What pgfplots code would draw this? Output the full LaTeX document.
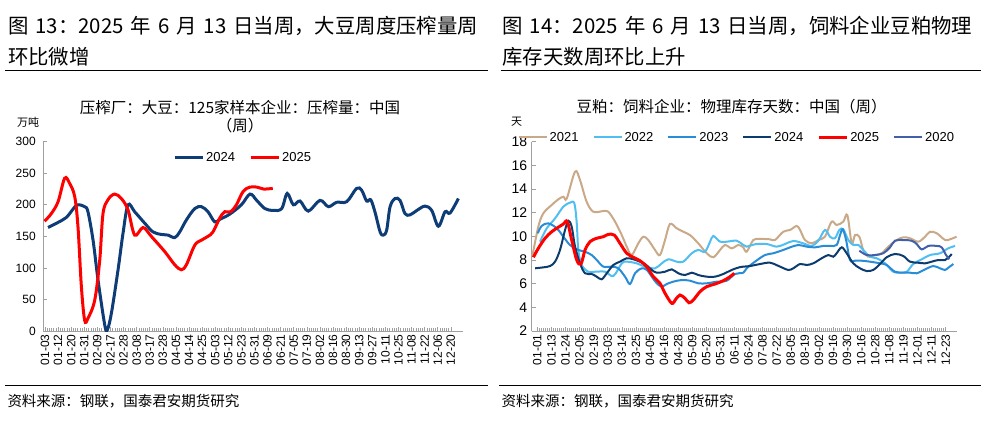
\documentclass[border=0pt]{standalone}
\usepackage{fontspec}
\setmainfont{Liberation Sans}
\newfontfamily\cjk{Noto Sans CJK SC}
\usepackage{pgfplots}
\pgfplotsset{compat=1.18}
\definecolor{navyL}{RGB}{14,60,118}
\definecolor{redL}{RGB}{255,0,0}
\definecolor{c21}{RGB}{201,169,135}
\definecolor{c22}{RGB}{80,190,240}
\definecolor{c23}{RGB}{40,140,215}
\definecolor{c24}{RGB}{12,60,110}
\definecolor{c20}{RGB}{65,95,170}
\definecolor{axgray}{RGB}{160,160,160}
\newcommand{\tsp}{\hspace{0.34em}}
\pgfplotsset{
  common/.style={
    scale only axis, height=189.3pt,
    axis x line*=bottom, axis y line*=left,
    axis line style={axgray, line width=0.8pt},
    tick align=inside,
    major tick length=4pt, minor tick length=3pt,
    tick style={axgray, line width=0.6pt},
    /pgf/number format/assume math mode=true,
    xticklabel style={rotate=90, anchor=east, font=\fontsize{12}{12}\selectfont},
    legend style={draw=none, fill=none, legend columns=-1,
      /tikz/every even column/.append style={column sep=12pt},
      nodes={inner sep=2pt}},
    legend image code/.code={\draw[##1] (0pt,0pt) -- (28pt,0pt);},
  }
}
\begin{document}
\begin{tikzpicture}[x=1pt,y=1pt]
\path[use as bounding box] (0,0) rectangle (988,426);
% ---------- left panel ----------
\node[anchor=west, inner sep=0] at (8,400.3) {\cjk\fontsize{20.4}{24}\selectfont 图\tsp 13：2025\tsp 年\tsp 6\tsp 月\tsp 13\tsp 日当周，大豆周度压榨量周};
\node[anchor=west, inner sep=0] at (8,369.3) {\cjk\fontsize{20.4}{24}\selectfont 环比微增};
\draw[line width=1pt] (5,355) -- (488,355);
\node[inner sep=0] at (240,318.7) {\cjk\fontsize{15.5}{18}\selectfont 压榨厂：大豆：125家样本企业：压榨量：中国};
\node[inner sep=0] at (240,300.3) {\cjk\fontsize{15.5}{18}\selectfont （周）};
\node[inner sep=0] at (28,303.7) {\cjk\fontsize{11}{12}\selectfont 万吨};
\begin{axis}[common, at={(43.3pt,95pt)}, anchor=south west, width=419.7pt,
  xmin=-0.13, xmax=31.93, ymin=0, ymax=300,
  ytick={0,50,...,300},
  yticklabel style={font=\fontsize{12}{12}\selectfont, xshift=-4pt},
  xtick={0,...,31}, minor x tick num=5,
  xticklabels={01-03,01-12,01-20,01-31,02-09,02-17,02-28,03-08,03-17,03-28,04-05,04-14,04-25,05-03,05-12,05-23,05-31,06-09,06-21,07-05,07-19,08-02,08-16,08-30,09-13,09-27,10-11,10-25,11-08,11-22,12-06,12-20},
  legend style={at={(0.476,0.9155)}, anchor=center, font=\fontsize{13}{13}\selectfont},
]
\addplot[navyL, line width=3pt, smooth, tension=0.55] coordinates {
(0.23,164)(0.99,172)(1.63,180)(2.1,192)(2.47,200)(3.03,197)(3.28,189)(3.67,144)(4.05,81)(4.56,10)(4.76,2)(5.07,28)(5.58,97)(5.96,155)(6.34,200)(6.85,189)(7.61,171)(8.25,157)(8.89,153)(9.4,152)(9.91,148)(10.29,157)(10.8,176)(11.44,194)(11.95,197)(12.45,189)(12.96,173)(13.35,177)(14.1,185)(15,200)(15.66,217)(16.17,207)(16.8,194)(17.44,191)(18.08,194)(18.5,218)(18.97,200)(19.48,206)(20.11,190)(21,207)(21.65,197)(22.28,204)(23.05,205)(23.8,226)(24.19,223)(24.57,206)(24.88,208)(25.2,189)(25.6,157)(25.85,152)(26.1,160)(26.36,197)(26.74,210)(27.12,207)(27.5,186)(27.88,184)(28.4,191)(29.03,198)(29.54,191)(30.05,166)(30.56,189)(30.94,187)(31.58,210)
};
\addlegendentry{2024}
\addplot[redL, line width=3pt, smooth, tension=0.55] coordinates {
(-0.03,174)(0.48,186)(1.0,205)(1.5,242)(1.88,234)(2.27,213)(2.52,165)(2.78,70)(3.03,17)(3.28,20)(3.8,49)(4.18,112)(4.43,186)(4.81,208)(5.32,217)(5.83,210)(6.34,192)(6.85,152)(7.49,164)(8.12,150)(9.14,126)(9.91,105)(10.41,97)(10.8,105)(11.44,136)(11.95,144)(12.45,150)(12.83,157)(13.35,179)(13.73,189)(14.18,189)(14.62,200)(15.13,221)(15.64,228)(16.2,228)(16.7,225)(17.4,226)
};
\addlegendentry{2025}
\end{axis}
\draw[line width=1pt] (5,41) -- (488,41);
\node[anchor=west, inner sep=0] at (7.3,25) {\cjk\fontsize{14.5}{16}\selectfont 资料来源：钢联，国泰君安期货研究};
% ---------- right panel ----------
\node[anchor=west, inner sep=0] at (502.3,400.3) {\cjk\fontsize{20.4}{24}\selectfont 图\tsp 14：2025\tsp 年\tsp 6\tsp 月\tsp 13\tsp 日当周，饲料企业豆粕物理};
\node[anchor=west, inner sep=0] at (502.3,369.3) {\cjk\fontsize{20.4}{24}\selectfont 库存天数周环比上升};
\draw[line width=1pt] (500.7,355) -- (981,355);
\node[inner sep=0] at (731.5,319.3) {\cjk\fontsize{15.5}{18}\selectfont 豆粕：饲料企业：物理库存天数：中国（周）};
\node[inner sep=0] at (516.7,304.3) {\cjk\fontsize{11}{12}\selectfont 天};
\begin{axis}[common, at={(531.7pt,95pt)}, anchor=south west, width=425.6pt,
  xmin=-0.4, xmax=29.83, ymin=2, ymax=18,
  ytick={2,4,...,18},
  yticklabel style={font=\fontsize{14}{14}\selectfont, xshift=-1pt},
  xtick={0,...,29}, minor x tick num=6,
  xticklabels={01-01,01-13,01-24,02-05,02-19,03-03,03-14,03-25,04-05,04-16,04-28,05-09,05-20,05-31,06-11,06-24,07-08,07-22,08-05,08-19,09-02,09-16,09-30,10-16,10-28,11-08,11-19,12-01,12-11,12-23},
  legend style={at={(0.482,1.023)}, anchor=center, font=\fontsize{13}{13}\selectfont},
]
\addplot[c21, line width=2pt, smooth, tension=0.55] coordinates {
(-0.36,8.28)(0.07,10.82)(0.43,11.95)(1.02,12.65)(1.49,13.13)(1.85,13.35)(2.09,13.2)(2.68,15.47)(3.03,14.76)(3.5,12.93)(3.98,12.08)(4.69,12.14)(5.04,12.08)(5.52,11.24)(6.0,10.1)(6.35,9.13)(6.7,8.42)(7.17,9.41)(7.53,9.97)(7.88,9.69)(8.36,8.85)(8.71,8.42)(9.07,9.69)(9.42,11.04)(9.9,10.68)(10.37,10.39)(10.85,10.1)(11.43,9.41)(12.03,8.57)(12.5,8.23)(12.98,8.85)(13.33,9.27)(13.81,8.99)(14.28,9.27)(14.63,9.07)(14.87,8.7)(15.34,9.69)(15.82,9.78)(16.53,9.75)(16.88,9.69)(17.47,10.39)(17.95,10.54)(18.42,10.88)(18.66,10.54)(19.01,9.69)(19.49,9.41)(19.96,9.69)(20.43,9.97)(20.9,11.24)(21.26,10.96)(21.73,11.24)(22.02,11.8)(22.33,9.41)(22.56,10.1)(22.87,9.97)(23.15,8.85)(23.51,8.28)(23.98,8.42)(24.46,8.57)(24.93,9.13)(25.53,9.69)(26,9.92)(26.47,9.84)(27.06,9.55)(27.54,9.97)(27.89,10.39)(28.37,10.26)(28.96,9.69)(29.31,9.75)(29.78,9.97)
};
\addlegendentry{2021}
\addplot[c22, line width=2pt, smooth, tension=0.55] coordinates {
(0.19,9.55)(0.67,10.68)(1.26,11.52)(1.85,12.51)(2.32,12.85)(2.63,12.79)(2.8,11.1)(2.91,8.85)(3.15,7.58)(3.62,7.01)(4.1,7.01)(4.81,7.01)(5.4,6.65)(6.0,7.72)(6.35,7.86)(7.06,7.72)(7.65,7.44)(8.36,7.3)(8.84,7.72)(9.3,8.06)(9.9,7.86)(10.37,7.86)(10.97,8.57)(11.43,8.85)(11.91,8.7)(12.27,9.55)(12.5,10.03)(12.98,9.55)(13.45,9.55)(14.16,9.63)(14.63,9.27)(14.87,9.13)(15.46,9.33)(16.29,9.35)(17,9.13)(17.59,9.35)(18.18,9.61)(18.89,9.41)(19.49,9.19)(19.96,9.63)(20.43,10.54)(20.79,9.97)(21.14,9.84)(21.45,10.54)(21.73,10.6)(22.09,9.69)(22.44,9.27)(22.8,9.27)(23.15,8.85)(23.63,8.28)(24.1,8.15)(24.7,7.72)(25.28,7.01)(25.76,6.93)(26.24,7.01)(26.7,7.66)(27.3,8.06)(27.89,8.42)(28.6,8.57)(29.19,8.99)(29.67,9.19)
};
\addlegendentry{2022}
\addplot[c23, line width=2pt, smooth, tension=0.55] coordinates {
(0.03,10.26)(0.31,10.88)(0.78,11.1)(1.38,10.68)(1.85,9.97)(2.32,9.27)(2.91,8.85)(3.39,8.7)(3.86,8.42)(4.22,8.0)(4.69,7.44)(5.28,7.44)(5.75,7.3)(6.23,6.59)(6.58,5.97)(6.94,6.88)(7.41,7.3)(7.77,7.16)(8.13,6.59)(8.48,6.03)(8.84,5.75)(9.19,5.97)(9.66,6.17)(10.26,6.31)(10.85,6.25)(11.43,6.03)(12.03,6.03)(12.74,6.17)(13.45,6.25)(14.04,6.82)(14.63,6.93)(14.87,7.3)(15.46,7.86)(16.17,8.42)(16.76,8.57)(17.47,8.85)(17.95,9.07)(18.54,9.27)(19.13,9.13)(19.72,9.07)(20.31,9.19)(20.79,9.19)(21.26,9.27)(21.5,10.1)(21.69,10.6)(21.93,9.69)(22.21,8.0)(22.56,7.94)(23.04,7.94)(23.63,7.86)(24.34,7.72)(24.81,7.58)(25.4,7.01)(25.99,6.93)(26.47,6.93)(26.95,6.88)(27.54,7.21)(28.13,7.49)(28.6,7.3)(28.96,7.16)(29.19,7.35)(29.55,7.66)
};
\addlegendentry{2023}
\addplot[c24, line width=2pt, smooth, tension=0.55] coordinates {
(-0.16,7.3)(0.43,7.38)(0.9,7.49)(1.26,7.86)(1.61,8.85)(1.97,10.54)(2.2,11.32)(2.44,10.82)(2.68,9.13)(3.03,7.72)(3.39,6.88)(3.86,6.82)(4.22,6.59)(4.57,6.37)(4.93,6.88)(5.4,7.58)(5.87,7.86)(6.35,8.15)(6.82,8.06)(7.29,7.86)(7.65,7.66)(8.13,7.16)(8.48,6.93)(9.07,7.01)(9.55,7.21)(10.01,6.88)(10.49,6.73)(10.97,6.93)(11.43,6.73)(12.03,6.59)(12.62,6.59)(13.21,6.82)(13.81,7.16)(14.4,7.4)(15.1,7.49)(15.82,7.66)(16.53,7.77)(17.24,7.44)(17.83,7.16)(18.18,7.3)(18.66,7.66)(19.13,7.58)(19.6,7.72)(20.2,8.15)(20.67,8.42)(21.02,8.28)(21.26,8.57)(21.62,9.07)(21.97,8.57)(22.44,7.72)(22.92,7.3)(23.39,7.07)(23.86,7.16)(24.34,7.66)(24.81,8.23)(25.4,8.51)(25.99,8.34)(26.47,7.86)(27.06,7.77)(27.54,7.72)(28.01,7.86)(28.48,8.0)(28.96,8.0)(29.31,8.34)(29.43,8.51)
};
\addlegendentry{2024}
\addplot[redL, line width=3pt, smooth, tension=0.55] coordinates {
(-0.28,8.23)(0.07,8.99)(0.55,9.84)(1.02,10.39)(1.49,10.77)(1.85,11.04)(2.13,11.24)(2.44,9.69)(2.8,8.0)(3.1,7.66)(3.39,8.85)(3.74,9.55)(4.22,9.84)(4.69,9.97)(5.04,10.17)(5.47,10.1)(5.87,9.41)(6.35,8.57)(6.82,8.23)(7.29,7.94)(7.77,7.44)(8.24,6.59)(8.71,6.03)(9.07,5.19)(9.55,4.34)(9.83,4.68)(10.13,5.04)(10.49,4.76)(10.77,4.39)(11.08,4.62)(11.55,5.32)(12.03,5.75)(12.62,5.97)(13.21,6.25)(13.69,6.59)(13.99,6.88)
};
\addlegendentry{2025}
\addplot[c20, line width=2pt, smooth, tension=0.55] coordinates {
(22.87,8.79)(23.39,8.42)(23.98,8.42)(24.57,8.57)(25.05,9.07)(25.4,9.63)(25.99,9.69)(26.59,9.63)(26.95,9.35)(27.3,8.9)(27.77,9.19)(28.37,9.19)(28.72,9.07)(29.03,8.42)(29.26,8.06)
};
\addlegendentry{2020}
\end{axis}
\draw[line width=1pt] (499,41) -- (981,41);
\node[anchor=west, inner sep=0] at (501.3,25) {\cjk\fontsize{14.5}{16}\selectfont 资料来源：钢联，国泰君安期货研究};
\end{tikzpicture}
\end{document}
